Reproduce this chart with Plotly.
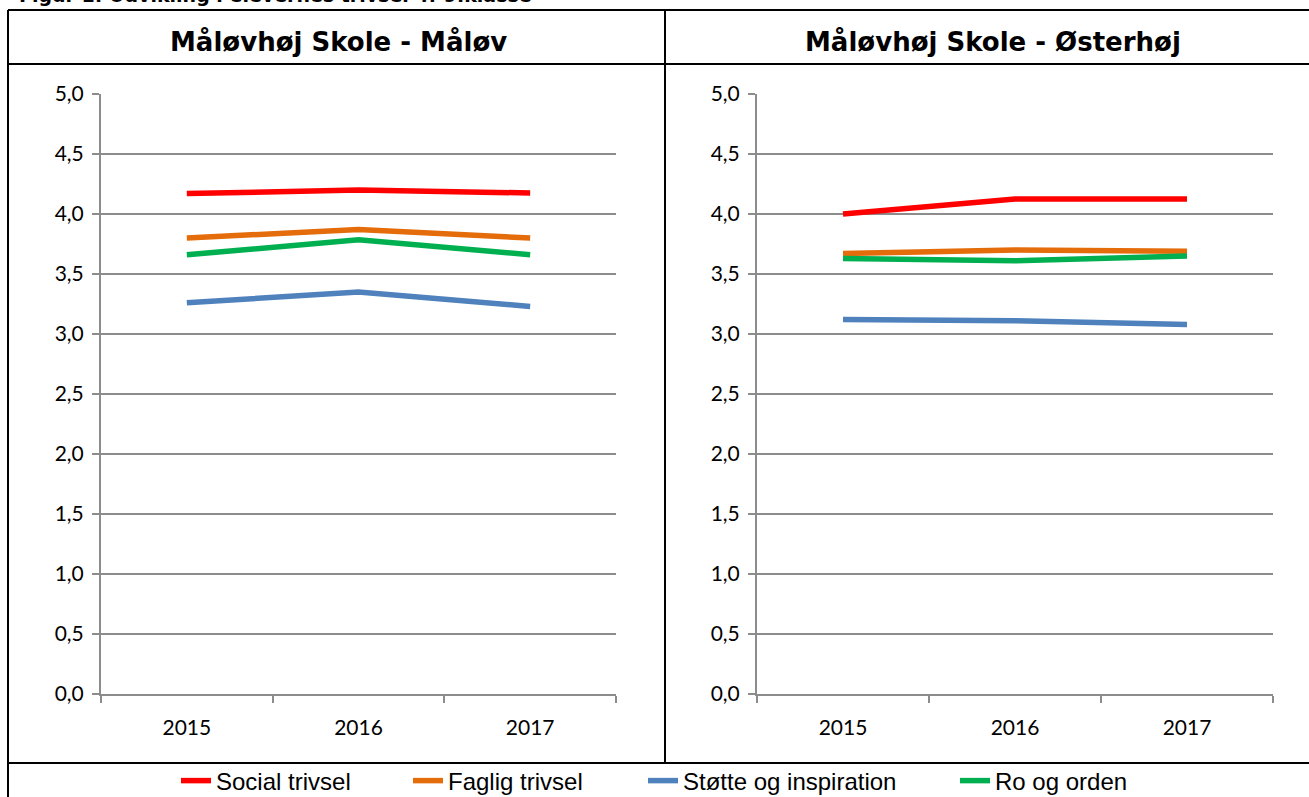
import plotly.graph_objects as go

years = ["2015", "2016", "2017"]
series_names = ["Social trivsel", "Faglig trivsel", "Støtte og inspiration", "Ro og orden"]
colors = ["#FF0000", "#E46C0A", "#4F81BD", "#00B050"]

maalov_social = [4.17, 4.20, 4.175]
maalov_faglig = [3.80, 3.87, 3.80]
maalov_stotte = [3.26, 3.35, 3.23]
maalov_ro = [3.66, 3.785, 3.66]

osterhoj_social = [4.00, 4.125, 4.125]
osterhoj_faglig = [3.67, 3.70, 3.69]
osterhoj_stotte = [3.12, 3.11, 3.08]
osterhoj_ro = [3.63, 3.61, 3.65]

y_ticks = [0, 0.5, 1, 1.5, 2, 2.5, 3, 3.5, 4, 4.5, 5]
y_ticktext = ["0,0", "0,5", "1,0", "1,5", "2,0", "2,5", "3,0", "3,5", "4,0", "4,5", "5,0"]

left_title = "Måløvhøj Skole - Måløv"
right_title = "Måløvhøj Skole - Østerhøj"
fig_title = "Figur 1: Udvikling i elevernes trivsel 4.-9.klasse"

W, H = 1309, 797

def px(x):
    return x / W

def py(y):
    return 1 - y / H

fig = go.Figure()

left = [maalov_social, maalov_faglig, maalov_stotte, maalov_ro]
right = [osterhoj_social, osterhoj_faglig, osterhoj_stotte, osterhoj_ro]
legend_ids = ["legend", "legend2", "legend3", "legend4"]
legend_left = [181, 413, 648, 960]

for name, col, vals, lg in zip(series_names, colors, left, legend_ids):
    fig.add_trace(go.Scatter(x=years, y=vals, mode="lines", name=name,
                             line=dict(color=col, width=5.5),
                             xaxis="x", yaxis="y", legendgroup=name, legend=lg))
for name, col, vals in zip(series_names, colors, right):
    fig.add_trace(go.Scatter(x=years, y=vals, mode="lines", name=name,
                             line=dict(color=col, width=5.5),
                             xaxis="x2", yaxis="y2", legendgroup=name, showlegend=False))

tick_font = dict(family="Lato, Carlito, sans-serif", size=21, color="#000000")
grid_col = "#8C8C8C"

xcommon = dict(type="category", showgrid=False, showline=True, linecolor=grid_col, linewidth=2,
               ticks="outside", tickson="boundaries", ticklen=7, tickcolor=grid_col, tickwidth=2,
               tickfont=tick_font, range=[-0.5, 2.5], fixedrange=True, zeroline=False,
               ticklabelstandoff=14)
ycommon = dict(range=[0, 5], tickvals=y_ticks, ticktext=y_ticktext, showgrid=True,
               gridcolor=grid_col, gridwidth=2, showline=True, linecolor=grid_col, linewidth=2,
               ticks="outside", ticklen=7, tickcolor=grid_col, tickwidth=2,
               tickfont=tick_font, zeroline=False, fixedrange=True, ticklabelstandoff=4)

legend_font = dict(family="Liberation Sans Narrow, Arial Narrow, Liberation Sans, sans-serif",
                   size=24, color="#000000")

ydom = [py(694), py(94)]
layout = dict(
    width=W, height=H,
    margin=dict(l=0, r=0, t=0, b=0, autoexpand=False),
    paper_bgcolor="white", plot_bgcolor="white",
    xaxis=dict(domain=[px(101), px(616)], anchor="y", **xcommon),
    yaxis=dict(domain=ydom, anchor="x", **ycommon),
    xaxis2=dict(domain=[px(757), px(1273)], anchor="y2", **xcommon),
    yaxis2=dict(domain=ydom, anchor="x2", **ycommon),
    showlegend=True,
)
for lg, xl in zip(legend_ids, legend_left):
    layout[lg] = dict(orientation="h", x=px(xl - 5), xanchor="left", y=py(781), yanchor="middle",
                      font=legend_font, bgcolor="rgba(0,0,0,0)")
fig.update_layout(**layout)

line = dict(color="#000000", width=2)
shapes = [
    dict(type="line", xref="paper", yref="paper", x0=px(8), x1=px(8), y0=py(10), y1=py(800), line=line),
    dict(type="line", xref="paper", yref="paper", x0=px(8), x1=px(1310), y0=py(10), y1=py(10), line=line),
    dict(type="line", xref="paper", yref="paper", x0=px(8), x1=px(1310), y0=py(64), y1=py(64), line=line),
    dict(type="line", xref="paper", yref="paper", x0=px(8), x1=px(1310), y0=py(763), y1=py(763), line=line),
    dict(type="line", xref="paper", yref="paper", x0=px(665), x1=px(665), y0=py(10), y1=py(763), line=line),
]
fig.update_layout(shapes=shapes)

head_font = dict(family="DejaVu Sans, Verdana, sans-serif", size=26, color="#000000")
fig.add_annotation(text="<b>" + left_title + "</b>", xref="paper", yref="paper",
                   x=px(338), y=py(41), showarrow=False, font=head_font, xanchor="center", yanchor="middle")
fig.add_annotation(text="<b>" + right_title + "</b>", xref="paper", yref="paper",
                   x=px(993), y=py(41), showarrow=False, font=head_font, xanchor="center", yanchor="middle")
fig.add_annotation(text="<b>" + fig_title + "</b>", xref="paper", yref="paper",
                   x=px(17), y=py(8), showarrow=False, xanchor="left", yanchor="bottom",
                   font=dict(family="DejaVu Sans, Verdana, sans-serif", size=19, color="#000000"))

fig.write_html("out.html", config={"displayModeBar": False},
               post_script="document.body.style.margin='0px';")
